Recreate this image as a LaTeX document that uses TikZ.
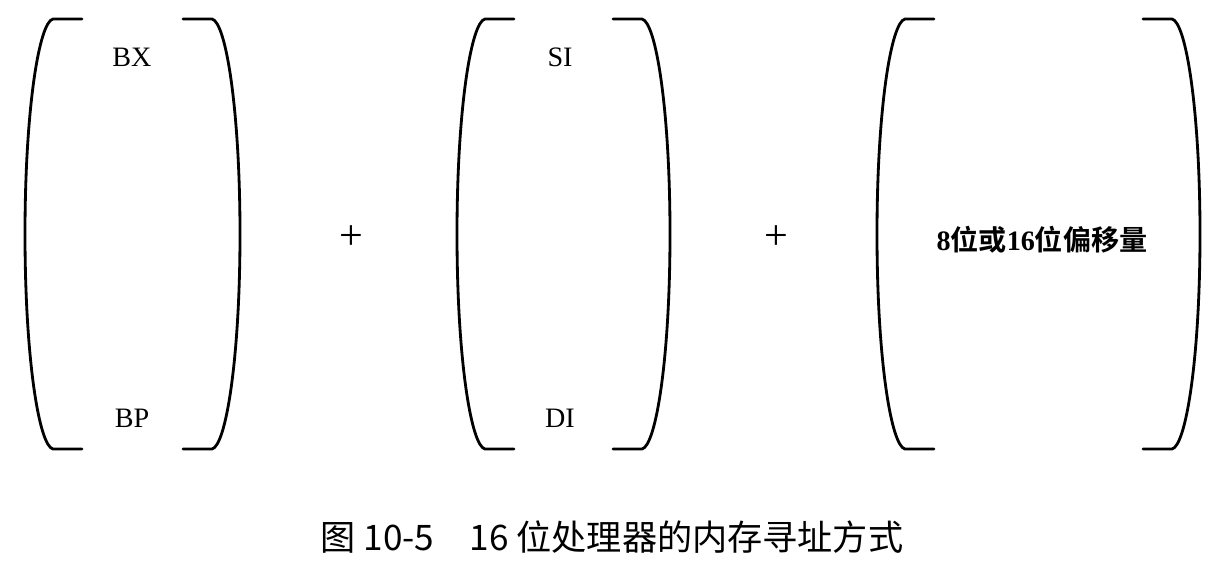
\documentclass[tikz,border=0pt]{standalone}
\usepackage{fontspec}
\setmainfont{Liberation Serif}
\newfontfamily\cjk{Noto Sans CJK SC}
\newfontfamily\cjkb{Noto Sans CJK SC Bold}

\begin{document}
\begin{tikzpicture}[x=0.025cm,y=-0.025cm,
    reg/.style={font=\fontsize{20}{22}\selectfont,inner sep=0pt},
    op/.style={font=\fontsize{30}{32}\selectfont,inner sep=0pt},
    bar/.style={line width=2pt,line cap=round}]
    \tikzstyle{caption}=[font=\fontsize{25}{28}\selectfont\cjk,inner sep=0pt]

    \useasboundingbox (0,0) rectangle (1223,561);

    % brackets
    \foreach \a/\b in {25/240, 457/670, 877/1200}{
      \draw[bar] (\a+57,19) -- (\a+28,19)
        .. controls (\a+14,22) and (\a,110) .. (\a,234)
        .. controls (\a,358) and (\a+14,446) .. (\a+28,449) -- (\a+57,449);
      \draw[bar] (\b-57,19) -- (\b-28,19)
        .. controls (\b-14,22) and (\b,110) .. (\b,234)
        .. controls (\b,358) and (\b-14,446) .. (\b-28,449) -- (\b-57,449);
    }

    \node[reg] (bx) at (132,57) {BX};
    \node[reg] (bp) at (132,418) {BP};
    \node[reg] (si) at (560,57) {SI};
    \node[reg] (di) at (560,418) {DI};
    \node[op] (plus1) at (351,238) {+};
    \node[op] (plus2) at (776,238) {+};
    \node[reg] (disp) at (1042,240)
      {\textbf{8}{\cjkb 位或}\textbf{16}{\cjkb 位偏移量}};

    \node[caption] (cap) at (612,537) {图 10-5\quad 16 位处理器的内存寻址方式};

  \end{tikzpicture}
\end{document}
